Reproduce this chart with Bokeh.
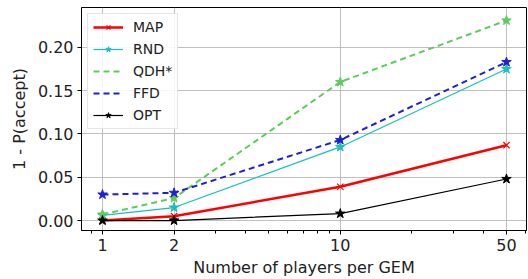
from bokeh.plotting import figure
from bokeh.models import FixedTicker, Range1d, Legend, LegendItem, CustomJSTickFormatter
from bokeh.embed import file_html
from bokeh.resources import INLINE

players = [1, 2, 10, 50]
map_vals = [0.000, 0.005, 0.039, 0.087]
rnd_vals = [0.006, 0.015, 0.085, 0.175]
qdh_vals = [0.007, 0.026, 0.160, 0.231]
ffd_vals = [0.030, 0.032, 0.093, 0.183]
opt_vals = [0.000, 0.000, 0.008, 0.048]
x_tick_labels = {1: "1", 2: "2", 10: "10", 50: "50"}
x_minor = [0.9, 3, 4, 5, 6, 7, 8, 9, 20, 30, 40, 60]
y_ticks = [0.0, 0.05, 0.10, 0.15, 0.20]

FONT = "DejaVu Sans"

p = figure(width=528, height=279, x_axis_type="log", output_backend="svg",
           toolbar_location=None,
           x_range=Range1d(0.816, 60.7), y_range=Range1d(-0.0115, 0.246),
           min_border_left=81, min_border_right=2, min_border_top=7,
           min_border_bottom=48)

p.outline_line_color = "black"
p.outline_line_width = 1
p.background_fill_color = "white"
p.border_fill_color = "white"

p.xaxis.ticker = FixedTicker(ticks=players, minor_ticks=x_minor)
p.xaxis.major_label_overrides = x_tick_labels
p.yaxis.ticker = FixedTicker(ticks=y_ticks, minor_ticks=[])
p.yaxis.formatter = CustomJSTickFormatter(code="return tick.toFixed(2);")

for ax in (p.xaxis[0], p.yaxis[0]):
    ax.axis_line_color = "black"
    ax.major_tick_line_color = "black"
    ax.major_tick_in = 0
    ax.major_tick_out = 4
    ax.minor_tick_in = 0
    ax.minor_tick_out = 3
    ax.minor_tick_line_color = "black"
    ax.major_label_text_font = FONT
    ax.major_label_text_font_size = "16px"
    ax.major_label_text_color = "#222222"
    ax.axis_label_text_font = FONT
    ax.axis_label_text_font_size = "16px"
    ax.axis_label_text_font_style = "normal"
    ax.axis_label_text_color = "#222222"
p.yaxis.minor_tick_line_color = None
p.xaxis.axis_label = "Number of players per GEM"
p.yaxis.axis_label = "1 - P(accept)"
p.xaxis.major_label_standoff = 4
p.yaxis.major_label_standoff = 4
p.xaxis.axis_label_standoff = 4
p.yaxis.axis_label_standoff = 6

p.xgrid.ticker = FixedTicker(ticks=players)
p.ygrid.ticker = FixedTicker(ticks=y_ticks)
p.grid.grid_line_color = "#b0b0b0"
p.grid.grid_line_alpha = 0.8

r_map = p.line(players, map_vals, line_color="red", line_width=2.5)
m_map = p.scatter(players, map_vals, marker="x", size=9, line_color="red", line_width=1.2)
r_rnd = p.line(players, rnd_vals, line_color="#17bfbf", line_width=1.2)
m_rnd = p.scatter(players, rnd_vals, marker="star", size=10, color="#17bfbf")
r_qdh = p.line(players, qdh_vals, line_color="#5ccc5c", line_width=2, line_dash="6 4")
m_qdh = p.scatter(players, qdh_vals, marker="star", size=10, color="#5ccc5c")
r_ffd = p.line(players, ffd_vals, line_color="#1f1fd6", line_width=2, line_dash="6 4")
m_ffd = p.scatter(players, ffd_vals, marker="star", size=10, color="#1f1fd6")
r_opt = p.line(players, opt_vals, line_color="black", line_width=1.2)
m_opt = p.scatter(players, opt_vals, marker="star", size=10, color="black")

legend = Legend(items=[
    LegendItem(label="MAP", renderers=[r_map, m_map]),
    LegendItem(label="RND", renderers=[r_rnd, m_rnd]),
    LegendItem(label="QDH*", renderers=[r_qdh]),
    LegendItem(label="FFD", renderers=[r_ffd]),
    LegendItem(label="OPT", renderers=[r_opt, m_opt]),
], location="top_left")
legend.label_text_font = FONT
legend.label_text_font_size = "14px"
legend.label_text_color = "#222222"
legend.border_line_color = "#cccccc"
legend.background_fill_alpha = 0.85
legend.glyph_width = 30
legend.glyph_height = 14
legend.spacing = 6
legend.padding = 5
legend.margin = 6
legend.label_standoff = 10
legend.label_height = 14
p.add_layout(legend)

open("out.html", "w").write(file_html(p, INLINE))
